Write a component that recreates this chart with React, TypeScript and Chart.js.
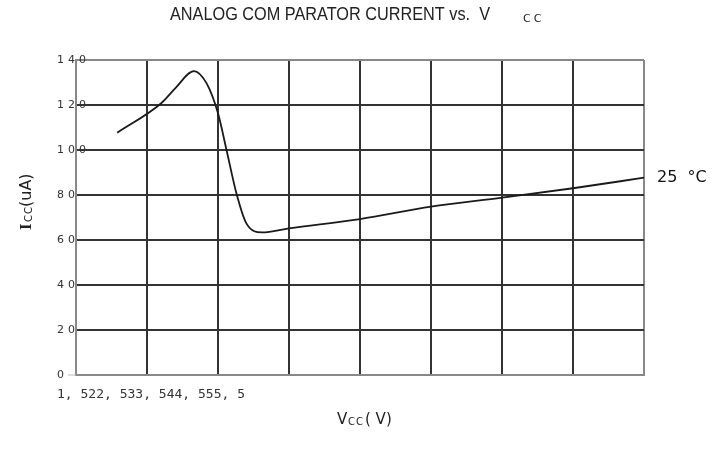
import React, { useEffect, useRef } from "react";
import { Chart, registerables } from "chart.js";

Chart.register(...registerables);

const vcc = [1.79, 2.1, 2.2, 2.33, 2.42, 2.5, 2.56, 2.63, 2.7, 2.81, 3.0, 3.5, 4.0, 4.5, 5.0, 5.5];
const icc = [107.7, 120.8, 127.5, 135.1, 129.6, 116.3, 100, 80.7, 67.4, 63.4, 65.2, 69.3, 74.8, 78.8, 83, 87.7];
const yTickLabels = ["0", "20", "40", "60", "80", "100", "120", "140"];
const xTickText = "1,5 2 2,5 3 3,5 4 4,5 5 5,5";
const xTickDisplay = "1, 522, 533, 544, 555, 5";
const titleMain = "ANALOG COM PARATOR CURRENT vs.  V";
const seriesLabel = "25  °C";

function fitText(ctx: CanvasRenderingContext2D, text: string, x: number, y: number, width: number) {
  const w = ctx.measureText(text).width;
  ctx.save();
  ctx.translate(x, y);
  ctx.scale(width / w, 1);
  ctx.fillText(text, 0, 0);
  ctx.restore();
}

const textPlugin = {
  id: "texts",
  afterDraw(chart: any) {
    const ctx = chart.ctx as CanvasRenderingContext2D;
    const ys = chart.scales.y;
    const area = chart.chartArea;
    ctx.save();
    ctx.fillStyle = "#222";
    ctx.textBaseline = "middle";
    ctx.textAlign = "left";
    // title
    ctx.font = "18px 'Liberation Sans'";
    fitText(ctx, titleMain, 170, 15, 320);
    ctx.font = "11px 'DejaVu Sans'";
    (ctx as any).letterSpacing = "3px";
    ctx.fillText("CC", 523, 19);
    // y tick labels
    ctx.fillStyle = "#333";
    ctx.font = "11px 'DejaVu Sans'";
    (ctx as any).letterSpacing = "4px";
    yTickLabels.forEach((t) => {
      const v = Number(t);
      ctx.fillText(t, 57, ys.getPixelForValue(v));
    });
    // x tick text
    (ctx as any).letterSpacing = "0px";
    ctx.font = "12px 'DejaVu Sans Mono'";
    fitText(ctx, xTickDisplay, 57, 395, 188);
    // x title
    ctx.fillStyle = "#222";
    ctx.font = "15px 'DejaVu Sans'";
    ctx.fillText("V", 337, 420);
    ctx.font = "10px 'DejaVu Sans'";
    (ctx as any).letterSpacing = "1px";
    ctx.fillText("CC", 348, 422);
    (ctx as any).letterSpacing = "0px";
    ctx.font = "15px 'DejaVu Sans'";
    ctx.fillText("( V)", 365, 420);
    // y title (rotated)
    ctx.save();
    ctx.translate(27, 230);
    ctx.rotate(-Math.PI / 2);
    ctx.font = "bold 17px 'Liberation Serif'";
    ctx.fillText("I", 0, 0);
    ctx.font = "10px 'DejaVu Sans'";
    (ctx as any).letterSpacing = "1px";
    ctx.fillText("CC", 8, 2);
    (ctx as any).letterSpacing = "0px";
    ctx.font = "16px 'DejaVu Sans'";
    ctx.fillText("(uA)", 23, 0);
    ctx.restore();
    // series label
    ctx.font = "16px 'DejaVu Sans'";
    ctx.fillStyle = "#111";
    ctx.fillText(seriesLabel, 657, 178);
    // y-axis tick stubs in light gray under 0
    ctx.strokeStyle = "#bbb";
    ctx.lineWidth = 1;
    ctx.beginPath();
    ctx.moveTo(68, area.bottom);
    ctx.lineTo(area.left, area.bottom);
    ctx.stroke();
    ctx.restore();
  },
};

export default function App() {
  const ref = useRef<HTMLCanvasElement>(null);
  useEffect(() => {
    document.body.style.margin = "0";
    const chart = new Chart(ref.current!, {
      type: "line",
      data: {
        datasets: [
          {
            label: "25 °C",
            data: vcc.map((x, i) => ({ x, y: icc[i] })),
            borderColor: "#1a1a1a",
            borderWidth: 1.8,
            pointRadius: 0,
            cubicInterpolationMode: "monotone",
            fill: false,
          },
        ],
      },
      options: {
        responsive: false,
        animation: false,
        layout: { padding: { left: 76, right: 76, top: 60, bottom: 74 } },
        plugins: { legend: { display: false }, tooltip: { enabled: false }, title: { display: false } },
        scales: {
          x: {
            type: "linear",
            min: 1.5,
            max: 5.5,
            ticks: { display: false, stepSize: 0.5 },
            grid: {
              drawTicks: false,
              lineWidth: 2,
              color: (c: any) => (c.index === 8 ? "#888" : "#333"),
            },
            border: { color: "#888", width: 2 },
          },
          y: {
            min: 0,
            max: 140,
            ticks: { display: false, stepSize: 20 },
            grid: {
              drawTicks: false,
              lineWidth: 2,
              color: (c: any) => (c.index === 7 ? "#888" : "#333"),
            },
            border: { color: "#888", width: 2 },
          },
        },
      },
      plugins: [textPlugin],
    });
    return () => chart.destroy();
  }, []);
  return (
    <div style={{ width: 720, height: 449, background: "#fff" }}>
      <canvas ref={ref} width={720} height={449} />
    </div>
  );
}
